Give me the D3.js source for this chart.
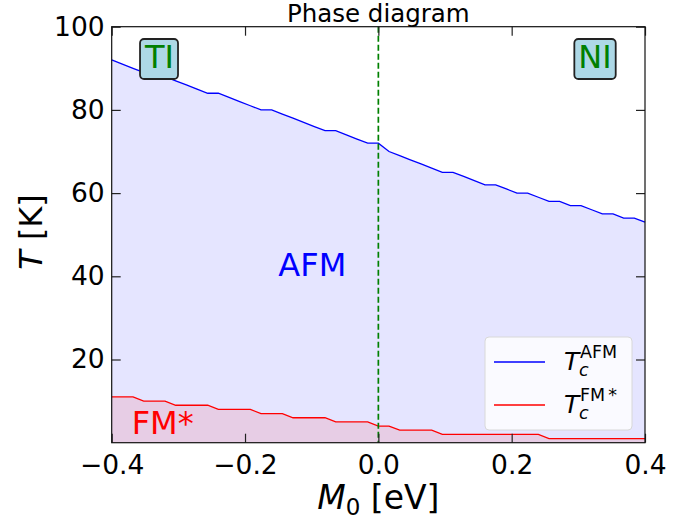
<!DOCTYPE html>
<html>
<head>
<meta charset="utf-8">
<script src="https://cdn.jsdelivr.net/npm/d3@7"></script>
<style>
  body { margin: 0; background: #fff; }
  svg { font-family: "DejaVu Sans", sans-serif; }
</style>
</head>
<body>
<svg id="chart" width="700" height="519"></svg>
<script>
// M0 grid [eV]
const m0 = [-0.4, -0.384, -0.368, -0.352, -0.336, -0.32, -0.304, -0.288, -0.272, -0.256,
  -0.24, -0.224, -0.208, -0.192, -0.176, -0.16, -0.144, -0.128, -0.112, -0.096,
  -0.08, -0.064, -0.048, -0.032, -0.016, 0, 0.016, 0.032, 0.048, 0.064,
  0.08, 0.096, 0.112, 0.128, 0.144, 0.16, 0.176, 0.192, 0.208, 0.224,
  0.24, 0.256, 0.272, 0.288, 0.304, 0.32, 0.336, 0.352, 0.368, 0.384, 0.4];

// T_c^AFM [K]
const tcAFM = [92, 91, 90, 89, 88, 88, 87, 86, 85, 84,
  84, 83, 82, 81, 80, 80, 79, 78, 77, 76,
  75, 75, 74, 73, 72, 72, 70, 69, 68, 67,
  66, 65, 65, 64, 63, 62, 62, 61, 60, 60,
  59, 58, 58, 57, 57, 56, 55, 55, 54, 54, 53];

// T_c^FM* [K]
const tcFM = [11, 11, 11, 10, 10, 10, 9, 9, 9, 9,
  8, 8, 8, 8, 7, 7, 7, 6, 6, 6,
  6, 5, 5, 5, 5, 4, 4, 3, 3, 3,
  3, 2, 2, 2, 2, 2, 2, 2, 2, 2,
  2, 1, 1, 1, 1, 1, 1, 1, 1, 1, 1];

const xTicks = [-0.4, -0.2, 0.0, 0.2, 0.4];
const yTicks = [20, 40, 60, 80, 100];

const svg = d3.select('#chart');
const pL = 111.7, pR = 645, pT = 26.7, pB = 442.7;

const x = d3.scaleLinear().domain([-0.4, 0.4]).range([pL, pR]);
const y = d3.scaleLinear().domain([0, 100]).range([pB, pT]);

const afm = m0.map((d, i) => ({ x: d, t: tcAFM[i] }));
const fm = m0.map((d, i) => ({ x: d, t: tcFM[i] }));

const area = d3.area().x(d => x(d.x)).y0(y(0)).y1(d => y(d.t));
const line = d3.line().x(d => x(d.x)).y(d => y(d.t));

// filled regions
svg.append('path').datum(afm).attr('d', area).attr('fill', 'blue').attr('fill-opacity', 0.1);
svg.append('path').datum(fm).attr('d', area).attr('fill', 'red').attr('fill-opacity', 0.1);

// phase boundary lines
svg.append('path').datum(afm).attr('d', line)
  .attr('fill', 'none').attr('stroke', 'blue').attr('stroke-width', 1.3);
svg.append('path').datum(fm).attr('d', line)
  .attr('fill', 'none').attr('stroke', 'red').attr('stroke-width', 1.3);

// M0 = 0 dashed line
svg.append('line')
  .attr('x1', x(0)).attr('x2', x(0)).attr('y1', pT).attr('y2', pB)
  .attr('stroke', 'green').attr('stroke-width', 1.7).attr('stroke-dasharray', '6,3');

// axes, ticks pointing inward on all sides
const fmtX = d => d3.format('.1f')(d).replace('-', '\u2212');
const gx = svg.append('g').attr('transform', `translate(0,${pB})`)
  .call(d3.axisBottom(x).tickValues(xTicks).tickFormat(fmtX).tickSizeInner(-9).tickSizeOuter(0).tickPadding(12));
const gxt = svg.append('g').attr('transform', `translate(0,${pT})`)
  .call(d3.axisTop(x).tickValues(xTicks).tickFormat('').tickSizeInner(-9).tickSizeOuter(0));
const gy = svg.append('g').attr('transform', `translate(${pL},0)`)
  .call(d3.axisLeft(y).tickValues(yTicks).tickSizeInner(-9).tickSizeOuter(0).tickPadding(7));
const gyr = svg.append('g').attr('transform', `translate(${pR},0)`)
  .call(d3.axisRight(y).tickValues(yTicks).tickFormat('').tickSizeInner(-9).tickSizeOuter(0));

[gx, gxt, gy, gyr].forEach(g => {
  g.select('.domain').remove();
  g.selectAll('.tick line').attr('stroke', '#222').attr('stroke-width', 1.2);
  g.selectAll('.tick text').attr('font-size', 26.5).attr('fill', '#000')
    .attr('font-family', '"DejaVu Sans", sans-serif');
});

// frame
svg.append('rect')
  .attr('x', pL).attr('y', pT).attr('width', pR - pL).attr('height', pB - pT)
  .attr('fill', 'none').attr('stroke', '#111').attr('stroke-width', 1.2);

// title
svg.append('text').attr('x', (pL + pR) / 2).attr('y', 22)
  .attr('text-anchor', 'middle').attr('font-size', 24.5).text('Phase diagram');

// x label: M_0 [eV]
const xl = svg.append('text').attr('x', (pL + pR) / 2).attr('y', 509)
  .attr('text-anchor', 'middle').attr('font-size', 33);
xl.append('tspan').attr('font-style', 'italic').text('M');
xl.append('tspan').attr('font-size', 23).attr('dy', 6).text('0');
xl.append('tspan').attr('dy', -6).text(' [eV]');

// y label: T [K]
const yl = svg.append('text').attr('transform', 'translate(42,232) rotate(-90)')
  .attr('text-anchor', 'middle').attr('font-size', 32);
yl.append('tspan').attr('font-style', 'italic').text('T');
yl.append('tspan').text(' [K]');

// phase labels
svg.append('text').attr('x', x(-0.15)).attr('y', y(40))
  .attr('font-size', 32).attr('fill', 'blue').text('AFM');
svg.append('text').attr('x', x(-0.37)).attr('y', y(2))
  .attr('font-size', 32).attr('fill', 'red').text('FM*');

// TI / NI boxed labels
function boxLabel(xv, tv, label) {
  const g = svg.append('g');
  const rect = g.append('rect');
  const t = g.append('text').attr('x', x(xv)).attr('y', y(tv))
    .attr('font-size', 32).attr('fill', 'green').text(label);
  const bb = t.node().getBBox();
  rect.attr('x', bb.x - 4).attr('y', 39).attr('width', bb.width + 8).attr('height', 40)
    .attr('rx', 4).attr('fill', '#add8e6').attr('stroke', '#222').attr('stroke-width', 1.8);
}
boxLabel(-0.35, 90, 'TI');
boxLabel(0.30, 90, 'NI');

// legend
const lg = svg.append('g');
lg.append('rect').attr('x', 485).attr('y', 337).attr('width', 147).attr('height', 93)
  .attr('rx', 4).attr('fill', 'white').attr('fill-opacity', 0.8)
  .attr('stroke', '#d8d8d8').attr('stroke-width', 1);
const entries = [
  { color: 'blue', sup: 'AFM', star: false, base: 370 },
  { color: 'red', sup: 'FM', star: true, base: 413 }
];
entries.forEach(e => {
  lg.append('line').attr('x1', 494).attr('x2', 545)
    .attr('y1', e.base - 8).attr('y2', e.base - 8)
    .attr('stroke', e.color).attr('stroke-width', 1.3);
  lg.append('text').attr('x', 564).attr('y', e.base)
    .attr('font-size', 25).attr('font-style', 'italic').text('T');
  lg.append('text').attr('x', 579).attr('y', e.base + 6)
    .attr('font-size', 17.5).attr('font-style', 'italic').text('c');
  const sup = lg.append('text').attr('x', 580).attr('y', e.base - 12)
    .attr('font-size', 17.5).text(e.sup);
  if (e.star) sup.append('tspan').attr('dx', 3).text('*');
});
</script>
</body>
</html>
